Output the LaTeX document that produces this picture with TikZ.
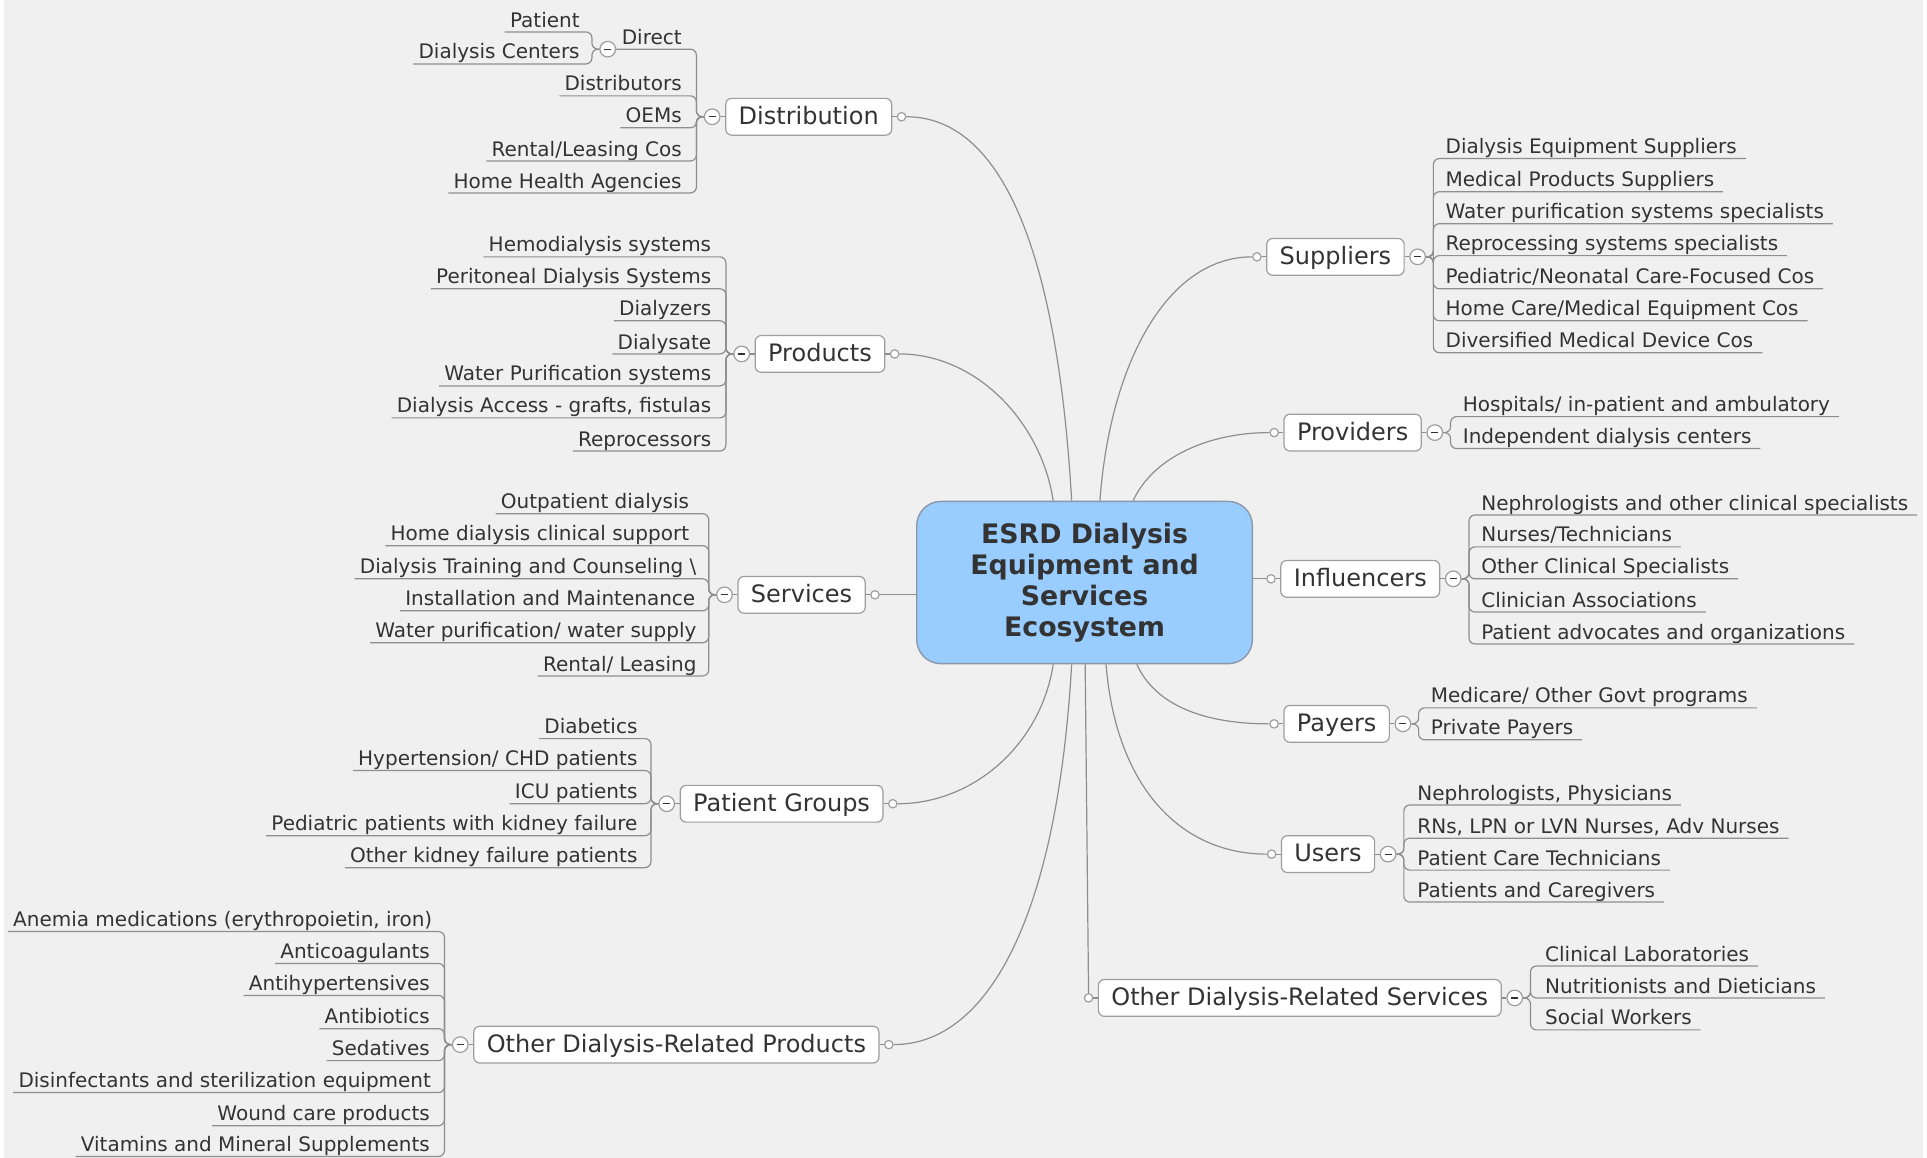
\documentclass[tikz,border=0pt]{standalone}
\usepackage{fontspec}
\setmainfont{DejaVu Sans}
\usetikzlibrary{calc}
\definecolor{bg}{HTML}{F0F0F0}
\definecolor{ln}{HTML}{8E8E8E}
\definecolor{bd}{HTML}{9E9E9E}
\definecolor{tx}{HTML}{333333}
\definecolor{cfill}{HTML}{99CCFF}
\definecolor{cbd}{HTML}{8A98A8}
\tikzset{
  leaf/.style={font=\fontsize{10}{12}\selectfont, text=tx, inner sep=0pt},
  topic/.style={draw=bd, fill=white, rounded corners=3pt, font=\fontsize{12}{14}\selectfont,
    text=tx, inner xsep=6.5pt, inner ysep=0pt, text height=9.4pt, text depth=2pt,
    minimum height=18.4pt, line width=0.6pt},
  central/.style={draw=cbd, fill=cfill, rounded corners=12pt, line width=0.7pt,
    minimum width=167.8pt, minimum height=81.1pt, align=center, text=tx,
    font=\fontsize{13.4}{15.4}\selectfont\bfseries},
  conn/.style={draw=ln, line width=0.6pt, rounded corners=3pt},
  mcurve/.style={draw=ln, line width=0.6pt},
  minus/.style={circle, draw=bd, fill=white, inner sep=0pt, minimum size=7.8pt, line width=0.6pt,
    path picture={\draw[tx, line width=0.6pt] ([xshift=-1.8pt]path picture bounding box.center) -- ([xshift=1.8pt]path picture bounding box.center);}},
  dot/.style={circle, draw=bd, fill=white, inner sep=0pt, minimum size=4.2pt, line width=0.6pt},
}
% left leaf connector: #1 minus node, #2 bracket coordinate, #3 leaf node
\newcommand\LeftCon[3]{\draw[conn] (#1.west) -| ($(#3.base east -| #2)+(0,4)$) -- ($(#3.base west)+(-4,4)$);}
% right leaf connector
\newcommand\RightCon[3]{\draw[conn] (#1.east) -| ($(#3.base west -| #2)+(0,4)$) -- ($(#3.base east)+(7,4)$);}
\begin{document}
\begin{tikzpicture}[x=0.6145pt, y=-0.6145pt]
\fill[white] (0,0) rectangle (1568,942);
\fill[bg] (3,0) rectangle (1565,942);
\useasboundingbox (0,0) rectangle (1568,942);

% ---------- central ----------
\node[central] (C) at (882.5,474) {ESRD Dialysis\\Equipment and\\Services\\Ecosystem};

% ---------- topics (left) ----------
\node[topic, anchor=west] (Dist) at (590,95) {Distribution};
\node[topic, anchor=west] (Prod) at (614,288) {Products};
\node[topic, anchor=west] (Serv) at (600,484) {Services};
\node[topic, anchor=west] (PG) at (553,654) {Patient Groups};
\node[topic, anchor=west] (OP) at (385,850) {Other Dialysis-Related Products};
% ---------- topics (right) ----------
\node[topic, anchor=east] (Supp) at (1143,209) {Suppliers};
\node[topic, anchor=east] (Prov) at (1157,352) {Providers};
\node[topic, anchor=east] (Infl) at (1172,471) {Influencers};
\node[topic, anchor=east] (Pay) at (1131,589) {Payers};
\node[topic, anchor=east] (Users) at (1119,695) {Users};
\node[topic, anchor=east] (OS) at (1222,812) {Other Dialysis-Related Services};

% dots (attachment to central)
\foreach \t in {Dist,Prod,Serv,PG,OP}{
  \node[dot] (d\t) at ($(\t.east)+(7.5,0)$) {};
  \draw[mcurve] (\t.east) -- (d\t.west);
}
\foreach \t in {Supp,Prov,Infl,Pay,Users,OS}{
  \node[dot] (d\t) at ($(\t.west)+(-7.5,0)$) {};
  \draw[mcurve] (\t.west) -- (d\t.east);
}
% minus circles
\foreach \t in {Dist,Prod,Serv,PG,OP}{
  \node[minus] (m\t) at ($(\t.west)+(-10.5,0)$) {};
  \draw[mcurve] (m\t.east) -- (\t.west);
  \coordinate (b\t) at ($(m\t.west)+(-6,0)$);
}
\foreach \t in {Supp,Prov,Infl,Pay,Users,OS}{
  \node[minus] (m\t) at ($(\t.east)+(10.5,0)$) {};
  \draw[mcurve] (\t.east) -- (m\t.west);
  \coordinate (b\t) at ($(m\t.east)+(6,0)$);
}

% ---------- central connectors ----------
\coordinate (tDist) at ($(C.north)+(-10.5,0)$);
\coordinate (tProd) at ($(C.north)+(-25.5,0)$);
\coordinate (tSupp) at ($(C.north)+(12.5,0)$);
\coordinate (tProv) at ($(C.north)+(39.5,0)$);
\coordinate (tPG) at ($(C.south)+(-25.5,0)$);
\coordinate (tOP) at ($(C.south)+(-10.5,0)$);
\coordinate (tOS) at ($(C.south)+(0.5,0)$);
\coordinate (tUsers) at ($(C.south)+(17.5,0)$);
\coordinate (tPay) at ($(C.south)+(42.5,0)$);
\draw[mcurve] (tDist) .. controls +(-12,-210) and +(75,0) .. (dDist.east);
\draw[mcurve] (tProd) .. controls +(-10,-65) and +(62,0) .. (dProd.east);
\draw[mcurve] (tPG) .. controls +(-10,65) and +(62,0) .. (dPG.east);
\draw[mcurve] (tOP) .. controls +(-12,210) and +(75,0) .. (dOP.east);
\draw[mcurve] (tSupp) .. controls +(8,-110) and +(-70,0) .. (dSupp.west);
\draw[mcurve] (tProv) .. controls +(16,-35) and +(-50,0) .. (dProv.west);
\draw[mcurve] (tPay) .. controls +(16,35) and +(-50,0) .. (dPay.west);
\draw[mcurve] (tUsers) .. controls +(8,100) and +(-70,0) .. (dUsers.west);
\draw[mcurve] (tOS) -- (dOS.north);
\draw[mcurve] (C.west |- dServ) -- (dServ.east);
\draw[mcurve] (C.east |- dInfl) -- (dInfl.west);

% ---------- Distribution ----------
\node[leaf, anchor=base east] (lDirect) at (555,36) {Direct};
\node[leaf, anchor=base east] (l12) at (555,74) {Distributors};
\node[leaf, anchor=base east] (l13) at (555,100) {OEMs};
\node[leaf, anchor=base east] (l14) at (555,127) {Rental/Leasing Cos};
\node[leaf, anchor=base east] (l15) at (555,153) {Home Health Agencies};
\node[minus] (mDirect) at (494.5,40) {};
\draw[conn] (mDist.west) -| ($(lDirect.base east -| bDist)+(0,4)$) -- (mDirect.east);
\foreach \n in {l12,l13,l14,l15}{\LeftCon{mDist}{bDist}{\n}}
\coordinate (bDirect) at ($(mDirect.west)+(-6,0)$);
\node[leaf, anchor=base east] (l01) at (472,22) {Patient};
\node[leaf, anchor=base east] (l02) at (472,48) {Dialysis Centers};
\foreach \n in {l01,l02}{\LeftCon{mDirect}{bDirect}{\n}}

% ---------- Products ----------
\node[leaf, anchor=base east] (l21) at (579,205) {Hemodialysis systems};
\node[leaf, anchor=base east] (l22) at (579,231) {Peritoneal Dialysis Systems};
\node[leaf, anchor=base east] (l23) at (579,257) {Dialyzers};
\node[leaf, anchor=base east] (l24) at (579,284) {Dialysate};
\node[leaf, anchor=base east] (l25) at (579,310) {Water Purification systems};
\node[leaf, anchor=base east] (l26) at (579,336) {Dialysis Access - grafts, fistulas};
\node[leaf, anchor=base east] (l27) at (579,363) {Reprocessors};
\foreach \n in {l21,l22,l23,l24,l25,l26,l27}{\LeftCon{mProd}{bProd}{\n}}

% ---------- Services ----------
\node[leaf, anchor=base east] (l31) at (561,414) {Outpatient dialysis};
\node[leaf, anchor=base east] (l32) at (561,440) {Home dialysis clinical support};
\node[leaf, anchor=base east] (l33) at (567,467) {Dialysis Training and Counseling \textbackslash};
\node[leaf, anchor=base east] (l34) at (566,493) {Installation and Maintenance};
\node[leaf, anchor=base east] (l35) at (567,519) {Water purification/ water supply};
\node[leaf, anchor=base east] (l36) at (567,546) {Rental/ Leasing};
\foreach \n in {l31,l32,l33,l34,l35,l36}{\LeftCon{mServ}{bServ}{\n}}

% ---------- Patient Groups ----------
\node[leaf, anchor=base east] (l41) at (519,597) {Diabetics};
\node[leaf, anchor=base east] (l42) at (519,623) {Hypertension/ CHD patients};
\node[leaf, anchor=base east] (l43) at (519,650) {ICU patients};
\node[leaf, anchor=base east] (l44) at (519,676) {Pediatric patients with kidney failure};
\node[leaf, anchor=base east] (l45) at (519,702) {Other kidney failure patients};
\foreach \n in {l41,l42,l43,l44,l45}{\LeftCon{mPG}{bPG}{\n}}

% ---------- Other Dialysis-Related Products ----------
\node[leaf, anchor=base east] (l51) at (352,754) {Anemia medications (erythropoietin, iron)};
\node[leaf, anchor=base east] (l52) at (350,780) {Anticoagulants};
\node[leaf, anchor=base east] (l53) at (350,806) {Antihypertensives};
\node[leaf, anchor=base east] (l54) at (350,833) {Antibiotics};
\node[leaf, anchor=base east] (l55) at (350,859) {Sedatives};
\node[leaf, anchor=base east] (l56) at (351,885) {Disinfectants and sterilization equipment};
\node[leaf, anchor=base east] (l57) at (350,912) {Wound care products};
\node[leaf, anchor=base east] (l58) at (350,937) {Vitamins and Mineral Supplements};
\foreach \n in {l51,l52,l53,l54,l55,l56,l57,l58}{\LeftCon{mOP}{bOP}{\n}}

% ---------- Suppliers ----------
\node[leaf, anchor=base west] (r11) at (1176,125) {Dialysis Equipment Suppliers};
\node[leaf, anchor=base west] (r12) at (1176,152) {Medical Products Suppliers};
\node[leaf, anchor=base west] (r13) at (1176,178) {Water purification systems specialists};
\node[leaf, anchor=base west] (r14) at (1176,204) {Reprocessing systems specialists};
\node[leaf, anchor=base west] (r15) at (1176,231) {Pediatric/Neonatal Care-Focused Cos};
\node[leaf, anchor=base west] (r16) at (1176,257) {Home Care/Medical Equipment Cos};
\node[leaf, anchor=base west] (r17) at (1176,283) {Diversified Medical Device Cos};
\foreach \n in {r11,r12,r13,r14,r15,r16,r17}{\RightCon{mSupp}{bSupp}{\n}}

% ---------- Providers ----------
\node[leaf, anchor=base west] (r21) at (1190,335) {Hospitals/ in-patient and ambulatory};
\node[leaf, anchor=base west] (r22) at (1190,361) {Independent dialysis centers};
\foreach \n in {r21,r22}{\RightCon{mProv}{bProv}{\n}}

% ---------- Influencers ----------
\node[leaf, anchor=base west] (r31) at (1205,415) {Nephrologists and other clinical specialists};
\node[leaf, anchor=base west] (r32) at (1205,441) {Nurses/Technicians};
\node[leaf, anchor=base west] (r33) at (1205,467) {Other Clinical Specialists};
\node[leaf, anchor=base west] (r34) at (1205,494) {Clinician Associations};
\node[leaf, anchor=base west] (r35) at (1205,520) {Patient advocates and organizations};
\foreach \n in {r31,r32,r33,r34,r35}{\RightCon{mInfl}{bInfl}{\n}}

% ---------- Payers ----------
\node[leaf, anchor=base west] (r41) at (1164,572) {Medicare/ Other Govt programs};
\node[leaf, anchor=base west] (r42) at (1164,598) {Private Payers};
\foreach \n in {r41,r42}{\RightCon{mPay}{bPay}{\n}}

% ---------- Users ----------
\node[leaf, anchor=base west] (r51) at (1153,651) {Nephrologists, Physicians};
\node[leaf, anchor=base west] (r52) at (1153,678) {RNs, LPN or LVN Nurses, Adv Nurses};
\node[leaf, anchor=base west] (r53) at (1153,704) {Patient Care Technicians};
\node[leaf, anchor=base west] (r54) at (1153,730) {Patients and Caregivers};
\foreach \n in {r51,r52,r53,r54}{\RightCon{mUsers}{bUsers}{\n}}

% ---------- Other Dialysis-Related Services ----------
\node[leaf, anchor=base west] (r61) at (1257,782) {Clinical Laboratories};
\node[leaf, anchor=base west] (r62) at (1257,808) {Nutritionists and Dieticians};
\node[leaf, anchor=base west] (r63) at (1257,834) {Social Workers};
\foreach \n in {r61,r62,r63}{\RightCon{mOS}{bOS}{\n}}
\end{tikzpicture}
\end{document}
